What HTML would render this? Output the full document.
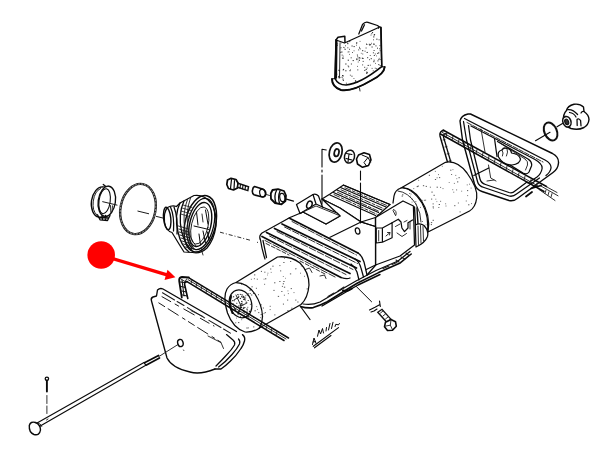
<!DOCTYPE html>
<html><head><meta charset="utf-8"><title>Parts diagram</title>
<style>
html,body{margin:0;padding:0;background:#fff;font-family:"Liberation Sans",sans-serif;}
svg{display:block}
.l{fill:none;stroke:#0a0a0a;stroke-width:1.25;stroke-linecap:round;stroke-linejoin:round}
.t{fill:none;stroke:#1a1a1a;stroke-width:.9;stroke-linecap:round;stroke-linejoin:round}
.w{fill:#fff;stroke:#0a0a0a;stroke-width:1.25;stroke-linecap:round;stroke-linejoin:round}
.d{fill:none;stroke:#1a1a1a;stroke-width:.9;stroke-dasharray:6 2 1.5 2}
</style></head><body>
<svg width="600" height="452" viewBox="0 0 600 452">
<rect width="600" height="452" fill="#fff"/>


<!-- A: top rubber boot -->
<g id="boot">
<path class="l" d="M358.8,34 L362.5,24.5 Q365,21.5 368,22.3 L377.5,25.5 L380,27.5 M361.5,31 L364.5,24.8"/>
<path class="l" d="M336,40 L338,37.2 L344.8,36.2 L345,42.5" style="stroke-width:1.5"/>
<path class="w" d="M336,40 L344.5,43 L379.7,27 L380.8,27.2 L381.7,66.7 L384.7,67 Q384,74 372,80 Q352,92 341,90 Q332,87 332,79 L335,78.5 Z"/>
<path d="M360.1,48.9h0.7M340.1,52.3h1.2M362.0,50.7h1.3M338.1,77.7h0.8M349.9,75.2h0.8M362.2,64.9h0.9M366.6,52.5h0.9M362.4,54.0h0.8M371.7,68.4h0.8M361.8,58.2h1.3M368.8,44.3h1.3M341.3,52.0h1.2M342.8,56.1h0.7M366.1,72.2h1.0M375.4,45.9h1.1M362.7,61.4h1.0M357.3,66.4h0.7M367.6,65.4h1.3M373.0,44.1h0.9M370.6,35.1h0.8M353.6,78.5h0.7M356.2,59.6h1.3M348.5,51.8h0.9M357.8,62.0h0.8M352.6,60.6h1.3M367.1,57.7h1.1M353.7,50.8h0.7M343.3,47.4h0.7M340.6,48.8h0.6M375.3,63.4h0.7M347.4,47.8h0.9M341.5,77.2h1.3M357.0,55.8h0.7M340.6,47.5h0.8M373.3,36.9h0.6M378.8,58.4h0.7M374.8,68.2h0.8M370.7,58.7h1.2M372.8,70.8h0.8M359.3,48.3h0.7M337.3,43.8h0.8M356.1,82.3h1.3M379.0,48.8h0.8M345.2,64.0h1.3M373.8,55.5h1.1M372.0,32.5h1.1M369.8,55.5h0.8M371.5,47.0h1.2M379.7,50.7h0.9M342.8,80.4h1.2M342.6,75.9h1.3M365.6,48.0h1.0M379.7,65.5h1.0M378.0,52.9h1.3M373.2,39.8h0.8M349.2,41.6h1.1M347.7,52.0h0.7M377.0,48.2h1.0M354.9,81.2h1.0M359.9,58.1h0.6M336.2,74.3h0.8M357.3,69.9h1.0M350.7,57.8h1.0M371.3,33.7h1.0M347.2,43.7h1.2M358.8,60.4h1.2M377.1,53.4h1.1M358.7,57.5h1.1M356.4,58.7h1.0M347.7,60.2h1.3M373.8,35.5h0.7M366.1,73.4h1.3M343.0,69.4h1.1M342.4,79.1h1.3M345.9,83.2h0.9M373.5,36.9h0.9M359.2,47.3h0.8M350.3,69.7h0.6M360.9,53.3h0.6M350.9,64.0h1.0M340.7,43.0h0.7M371.1,43.3h0.7M355.0,80.8h1.2M377.4,60.9h1.1M367.0,52.4h0.7M378.2,64.6h1.2M339.8,77.6h0.7M374.8,54.0h0.9M359.7,41.4h0.7M345.1,45.8h0.8M370.2,44.5h1.0M344.0,47.8h0.6M369.0,59.7h0.8M357.4,82.2h0.7M372.9,52.8h1.0M373.6,50.5h1.0M351.4,76.2h1.1M364.6,51.2h0.9M339.2,70.8h0.8M366.2,44.0h0.8M349.2,54.4h0.7M356.1,42.9h1.3M379.8,59.5h0.8M379.5,45.6h0.9M357.4,56.9h0.8M337.0,45.3h0.8M362.4,58.5h1.2M365.6,69.4h1.3M353.5,46.6h1.3M342.7,69.9h1.1M338.0,76.4h1.3M364.2,70.4h1.2M342.3,58.1h1.0M373.2,61.7h1.3M366.7,68.1h0.8M373.6,60.2h1.1M364.2,67.3h1.0M336.1,74.2h1.2M358.6,58.8h1.1M339.0,70.6h0.8M339.4,43.0h1.2M345.2,70.8h1.3M358.2,49.9h1.0M366.8,72.4h1.1M369.4,45.3h1.0M348.1,66.8h1.1M366.4,44.5h1.0M356.9,54.8h0.7M376.2,39.2h1.3M378.1,28.5h1.0M356.2,43.2h0.8M378.6,39.8h1.0M342.4,58.2h1.3M342.0,75.5h1.0M375.9,68.6h0.8M376.4,55.9h0.6M356.3,45.2h0.7M351.5,46.0h1.2M373.8,34.5h1.3M349.0,49.3h0.9M352.2,52.5h0.8M373.6,44.2h1.3M347.2,43.0h1.0M344.5,49.3h1.3M378.3,59.6h1.1M338.2,70.3h1.0M369.9,65.2h0.8M341.7,55.1h0.9M349.4,70.7h1.3M347.7,65.9h0.8" stroke="#222" stroke-width="0.90" fill="none"/>
<path class="l" d="M336,40 L335,78.5 M336.8,41 L336.3,78" style="stroke-width:1.5"/>
<path class="l" d="M381,27.5 L381.8,66.5" style="stroke-width:1.6"/>
<path class="l" d="M332,79 Q332,87 341,90 Q352,92 372,80 Q384,74 384.7,67" style="stroke-width:1.9"/>
<path class="l" d="M335,78.5 Q338,85 346,85 Q360,84 381.7,66.7" style="stroke-width:1.7"/>
<path class="t" d="M340,44 L339.5,78"/>
<path class="t" d="M359.5,88 L360,91"/>
</g>

<!-- B: right lamp housing -->
<g id="housing">
<path class="w" d="M468,114 Q461,115.500 460,121 L462.500,140 L474.500,184 Q476.500,190 482,191.500 L509,200.500 Q514,201.500 518,198 L553,172.500 Q558,169 558.500,163 Q559,157 552.500,153.500 L470.500,114 Z" style="stroke-width:1.400"/>
<path class="l" d="M464.500,118.500 L545,160 Q551.500,163.500 551,168 Q550.500,172 546,175.500"/>
<path class="l" d="M463.500,121.500 L466.500,140 L477.500,181.500 Q478.500,186 484,187.500 L509,196 Q513,197 516.500,194 L539.500,178"/>
<path class="t" d="M467,122.500 L543,162" stroke-dasharray="5 1.500"/>
<path class="l" d="M468.500,125.500 L470.500,140 L480,179 Q481,183 485.500,184.500 L509,192.500 Q512.500,193.500 515,191 L527,182"/>
<!-- lens opening -->
<path class="l" d="M471,126 L535,159.500 Q543,164 542,169 Q541,174 537,177 L528,183"/>
<path class="l" d="M494.500,138.500 L497,156.500 M497.500,141.500 L528,159 Q532.500,162 531.500,166 L529,172 Q527,175 523,173 L499.500,158.500"/>
<path class="t" d="M500,143 L525,159 Q528.500,161.500 527.500,165 L525.500,170"/>
<path class="w" d="M498.500,157 Q497,151 502,150 Q503.500,147 507,148.500 Q511,149 511.500,153 Q519,154 520.500,159 Q520,164 512,165 Q503,165 498.500,157 Z"/>
<path class="t" d="M502,150 Q504,153 502.500,156 M507,148.500 Q508.500,152 506.500,156"/>
<path class="t" d="M481,129 L485,152 M488.500,165 L490.700,178 L496,181 M487,181 L494,180"/>
<path class="l" d="M473.800,175.500 L488.800,168"/>
</g>
<!-- rod through housing -->
<g id="rodR">
<path class="l" d="M440.500,134 L544,191.500 M443,130 L546.500,186.500" style="stroke-width:1.500"/>
<path class="t" d="M442,132.300 L538,186"/>
<path class="t" d="M447,133 L446,137 M453,136.300 L452,140.300 M459,139.600 L458,143.600 M465,143 L464,147 M471,146.300 L470,150.300 M477,149.600 L476,153.600 M483,153 L482,157 M489,156.300 L488,160.300 M495,159.600 L494,163.600 M501,163 L500,167 M507,166.300 L506,170.300 M513,169.600 L512,173.600 M519,173 L518,177 M525,176.300 L524,180.300 M531,179.600 L530,183.600 M537,183 L536,187"/>
<path class="t" d="M540,185.500 L558,195.800 M539,189.500 L555,200.500 M546,186.500 L557,192.500"/>
<path class="t" d="M546,190 L545,193.500 M549,191.800 L548,195.300 M552,193.600 L551,197.100"/>
<path class="l" d="M531,188.500 L541,185.500 M526,196.500 L532,192" style="stroke-width:1.800"/>
</g>
<!-- right gasket -->
<g id="gasketR">
<path class="l" d="M444,130.500 Q439,131 440,136 L451.500,176 Q453.500,181.500 459,183.500 L468,187" style="stroke-width:1.400"/>
<path class="l" d="M446,133.500 Q443,134 443.500,137 L454.500,174.500 Q456,178.500 460,180 L467.500,183"/>
<path class="t" d="M443,140 L445,139.500 M445,147 L447,146.500 M447,154 L449,153.500 M449,161 L451,160.500 M451,168 L453,167.500 M453.500,175 L455.500,174"/>
</g>
<!-- C: ring + cap -->
<g id="ringcap">
<ellipse cx="550.600" cy="131.500" rx="6.200" ry="9.500" transform="rotate(-24 550.6 131.5)" fill="#fff" stroke="#111" stroke-width="2"/>
<path class="l" d="M535.500,140.700 L550,132.300 M557,126.800 L562.500,123.500" style="stroke-width:1.150"/>
<path class="w" d="M566.500,110.500 Q567.500,106 574,104.300 Q580,103.500 583.500,107 L584,111.500 Q589,115 589,119.500 Q588.500,125 584,127.500 Q578,130.500 571,128.500 Q564.500,126 563.500,120.500 Q563,114 566.500,110.500 Z" style="stroke-width:1.400"/>
<ellipse cx="566.900" cy="121.700" rx="4" ry="5.400" transform="rotate(-20 566.9 121.7)" fill="#fff" stroke="#111" stroke-width="1.600"/>
<ellipse cx="566.700" cy="121.900" rx="1.900" ry="2.900" transform="rotate(-20 566.7 121.9)" fill="#333" stroke="#111" stroke-width="1.100"/>
<path class="l" d="M567.800,109.600 Q573,109 577.600,114.500 M569.500,112.500 Q574,113 576,117 M577,119.400 L577.200,125.500 M580.600,120.600 L581,125.800 M577,119.400 Q579,118 580.600,120.600 M584,111.500 Q582,111 581,113"/>
</g>

<!-- D: right cylinder -->
<g id="cylR">
<path class="w" d="M401,188 L445.500,162.300 Q457,160 467,173 Q478,188 476.700,198 Q475.500,207.500 469.500,211 L428,232 Q431,215 421,200 Q412,187 401,188 Z"/>
<path d="M442.6,188.6h0.8M467.3,195.6h0.8M434.9,171.4h0.8M421.3,200.4h1.3M456.2,189.9h0.9M440.2,187.4h0.9M438.7,204.5h1.3M418.3,180.3h0.8M431.4,192.1h1.3M436.6,201.6h0.6M430.8,224.6h1.2M454.2,205.7h1.2M435.5,199.2h0.7M458.5,177.7h1.3M448.8,182.5h0.7M452.6,169.6h0.7M440.2,201.3h0.9M436.7,177.8h0.8M438.4,207.5h0.9M432.9,208.1h0.8M459.6,211.9h1.0M457.0,181.9h1.3M438.2,174.6h0.8M432.6,206.9h1.3M413.4,188.6h0.8M430.9,222.6h1.3M469.1,184.2h0.8M429.9,187.2h0.9M422.9,185.7h1.3M417.7,186.1h1.2M461.4,191.2h0.7M436.6,187.2h1.3M416.7,186.6h1.3M466.8,184.9h0.8M471.0,203.6h0.8M453.9,183.4h0.8M468.1,204.8h1.3M470.7,188.1h0.8M433.5,195.3h1.3M457.9,203.0h0.9M425.7,186.4h1.2M456.5,178.7h0.7M453.4,192.2h0.8M432.6,203.9h1.1M450.2,170.2h1.2M423.9,200.3h0.9M455.4,175.4h0.8M465.8,201.0h0.9M439.0,177.6h1.2M434.9,179.5h1.2M445.3,203.8h0.8M445.6,206.0h0.8M451.2,174.5h0.9M441.9,166.3h0.7M431.1,199.1h1.1M452.4,189.7h0.8M425.2,200.2h0.9M432.6,220.3h1.3M428.8,175.3h1.2M467.0,190.6h1.2" stroke="#444" stroke-width="0.90" fill="none"/><path d="M410.3,196.2h0.6M415.3,204.1h1.0M402.1,194.8h1.3M422.2,221.5h0.8M415.4,201.6h0.9M416.4,207.0h0.9M411.2,198.9h1.2M420.2,207.4h0.8M410.7,194.1h0.7M409.3,193.5h0.9M411.9,192.1h1.0M425.7,224.8h0.7M411.7,202.1h0.7M401.6,196.1h1.3" stroke="#444" stroke-width="0.90" fill="none"/>
<path class="l" d="M401,188 Q395,190 394,196 L393,203"/>
<path class="l" d="M403,187.5 Q414,190 422,203 Q430,217 427,236"/>
<path class="t" d="M398,191 Q408,192 416,204 Q421,213 421,222"/>
<path class="l" d="M414.500,207 L415.500,225 M417,208 L418,224.500" style="stroke-width:1.400"/>
<path class="w" d="M415.300,225 Q420,222.500 424,225.500 Q429,231 427.500,236.500 Q425,243 416,247 Z"/>
<path class="t" d="M418,226 L418.500,244.500 M420.500,225.500 L421,243 M423,226.500 L423.500,241"/>
</g>

<!-- E: central body -->
<g id="body">
<!-- right ribbed top -->
<path class="w" d="M343.5,185 L330,194 L322,199 L340,208 L361,222 L375.5,217.5 L390,204.5 Z"/>
<path class="l" d="M343.500,185.200 L390,204.500 M340.500,187.500 L386,207 M337,190 L382,210 M333.500,192.500 L378.500,212.500 M330,195 L375.500,215.500" style="stroke-width:1.150"/>
<path class="t" d="M345,187.800 L388,206 M341,189.800 L384,208.800 M337.500,192.300 L380,211.800 M334,194.600 L377,214.300" stroke-dasharray="6 2 3 2" style="stroke-width:.9"/>
<!-- box -->
<path class="w" d="M375.500,217.500 L403,201 L413.400,206 L414.500,245 L400,256 L375.500,265 Z"/>
<path class="l" d="M375.500,217.500 L375.500,265"/>
<path class="l" d="M376.200,228 L382.400,228 L392.100,222.700 L392.100,237.800 L382.400,242.200 L382.400,228 M376.200,228 L376.200,243 L382.400,242.200" style="stroke-width:1.200"/>
<path class="t" d="M378.700,230.500 L378.700,241 M386,236 L390,232.500 L387.500,232.500 M390,232.500 L389.500,235"/>
<path class="l" d="M392.100,222.700 L398.300,219.200 L401,222 L401.900,228 L404.500,231.600 L408,228 L408,222.700 L412.500,220"/>
<path class="t" d="M395.500,226.500 L400,224 M397,233 L402,236.500 L406.500,233.500 M410,222 L410,229 M404,222 L407,220.500"/>
<path class="t" d="M393,210.500 L395.500,215.500 M393.500,209.500 Q397,210.500 396,215"/>
<!-- platform -->
<path class="w" d="M290,217.5 L303,212 L326,224 L340,216 L322,199 L340,208 L361,222 L375.5,226.5 L375.5,265 L355,275 L332,279 L261,238 Z"/>
<path class="l" d="M327.5,238.5 L361,222 L375.5,226.5"/>
<ellipse class="l" cx="357.6" cy="231" rx="2.2" ry="3.2" transform="rotate(-15 357.6 231)"/>
<!-- bracket tab -->
<path class="w" d="M296.5,204.5 L313,194.5 Q316,193.5 318.5,196 L322.5,207 L337,213 L340,216 L326,224 L303,212 L300,213.5 Z"/>
<path class="l" d="M300,213.5 L316,204 L322.5,207 M316,204 L313,194.5"/>
<ellipse class="l" cx="309.400" cy="204.800" rx="2.500" ry="3.800" transform="rotate(22 309.4 204.8)" style="stroke-width:1.500"/>
<path class="t" d="M303,212 L316,206 L338,215"/>
<!-- left ribbed top -->
<path d="M290,217.500 L262,233 Q259,235 260,239 L263,256 L300,300 L332,297 L358,282 L366,270 L358,252 Z" fill="#fff" stroke="none"/>
<path class="l" d="M290,217.500 L262,233 Q259,235.500 260,239"/>
<path class="l" d="M262,236.500 L341,277.500 M266.500,232.500 L350,273.500 M274.500,228.500 L356.500,268 M282,224 L360,261.500 M290,218.500 L358,253" style="stroke-width:1.700"/>
<path class="t" d="M265,240.500 L336,277.500 M269.500,236 L346,274.500 M277,231.500 L353,269.500 M284.500,227 L357.500,263.500 M292,221.500 L356.500,255" stroke-dasharray="7 2"/>
<path class="t" d="M266,243.500 L289,255 M300,261 L325,274" stroke-dasharray="4 2"/>
<path class="l" d="M260.300,239 Q262,250 265,259 M263,240.500 L266.500,257.500"/>
<!-- lower skirt -->
<path class="l" d="M358,253 Q362.500,256 364,262 Q365.500,268 367,275 M355,259 Q359.500,262 361,268 L363.500,277 M351,264 Q355,267 357,272 L359,280"/>
<path class="l" d="M341,277.500 Q347,279.500 350,278 M367,275 L375.800,265"/>
<path class="l" d="M300.500,306.400 Q307,308.500 313.300,307.600 Q320,305.500 327.300,301.800 L346,290 L357.600,283 L378.600,272.600 L399.600,263.300 L411.200,254" style="stroke-width:1.600"/>
<path class="l" d="M303,304 Q312,305.500 320,302 L343,288.500 L356,281 L376,270.500 L398,261 L410,251.500" />
<path class="l" d="M322,306 L346,292 L358,285 L380,274.500" style="stroke-width:1.400"/>
<path class="t" d="M328,296.500 L334,293 M338,291 L344,287 M383,268.500 L389,266 M392,264.500 L397,262.500 M401,257 L405,259 M396,260 L399,262 M406,253 L409,255.500" style="stroke-width:1.100"/>
<path class="l" d="M343,290.500 Q347,292 352,288.500" style="stroke-width:2"/>
<path class="t" d="M304,270 L309.500,268 L312,272.500 M320,276 L324.500,275 L326,278.500"/>
</g>

<!-- F: left cylinder -->
<g id="cylL">
<path class="w" d="M236,282.500 L277.500,257 Q290,255.500 300,263 Q309,272 309,285 Q308,298 301,304.500 L261,327 Q254,332.500 245,332 Q233,328 227.500,313 Q222.500,297 227,289 Q230,284 236,282.500 Z"/>
<path d="M283.3,281.5h1.3M277.8,296.4h1.3M282.8,283.8h1.2M279.3,281.5h1.2M270.1,269.0h1.2M285.1,278.3h0.6M281.9,286.4h1.0M300.9,266.0h0.8M284.4,258.5h0.6M264.3,272.2h1.1M280.1,270.9h1.1M272.3,266.2h1.3M267.3,275.0h0.6M283.9,295.2h0.9M283.9,287.2h1.3M289.9,273.9h1.3M267.6,273.2h0.7M281.3,291.5h1.1M295.3,268.9h0.9M288.6,257.4h1.2M290.7,288.6h1.2M270.8,272.4h0.7M262.8,308.0h1.1M258.1,294.7h0.9M293.6,292.6h0.8M262.2,316.9h0.9M282.9,304.1h1.1M306.6,288.9h1.2M269.7,306.3h1.0M260.9,271.4h1.1M287.1,300.1h1.1M290.1,261.5h1.1M264.7,312.6h1.2M295.2,300.1h1.2M282.9,276.5h0.7M253.9,278.7h0.9M265.0,278.8h1.3M274.3,314.9h1.1M269.7,309.6h0.9M287.9,293.6h0.8M295.7,268.6h0.6M273.4,290.4h1.2M263.6,313.6h0.8M304.2,276.3h0.8M287.6,290.9h0.7M283.3,262.5h1.2M287.4,310.5h1.1M264.2,284.3h0.9M254.0,274.9h1.3M274.1,282.8h1.3M255.9,288.3h1.0M291.3,308.2h1.1M263.7,279.2h0.7M297.3,302.0h1.2M251.5,286.8h1.2M279.4,265.6h1.0M300.2,273.2h0.8M260.5,304.8h1.2M256.8,279.2h1.0M250.9,279.3h0.8" stroke="#444" stroke-width="0.90" fill="none"/><path d="M238.0,306.0h1.0M253.0,293.5h0.9M240.1,309.8h1.2M235.3,322.8h0.9M243.1,296.4h1.0M260.6,314.6h1.2M236.7,298.6h0.8M246.2,313.7h1.2M257.3,309.4h0.7M247.0,314.8h1.2M258.2,312.6h1.1M247.7,316.6h1.1M249.7,293.6h1.1M241.4,319.7h0.7M253.2,326.9h1.1M238.1,322.6h1.2M245.3,295.8h0.8M240.1,298.6h0.9M248.2,327.9h0.7M245.5,285.4h0.7M254.5,310.8h1.3M241.0,284.2h0.9M246.4,328.0h1.3M242.1,303.1h0.7M248.3,293.6h0.7M249.8,289.3h1.3M251.1,295.0h1.2M253.1,317.4h1.2M247.8,317.2h1.0M260.2,317.6h0.6M236.0,318.1h0.7M256.4,306.6h0.7M238.1,310.8h0.9M249.5,290.4h1.2M237.9,314.1h1.1" stroke="#333" stroke-width="0.90" fill="none"/>
<path class="l" d="M236,282.500 Q247,282.500 255,294 Q262,305 262.500,316 Q262,324 259,328.500"/>
<ellipse class="l" cx="240.500" cy="303.800" rx="11" ry="14.200" transform="rotate(-18 240.5 303.8)"/>
<path class="l" d="M231,296 Q228.500,304 232.500,313" style="stroke-width:2"/>
<path d="M232.0,300.7h1.5M246.8,310.0h1.0M234.0,307.4h0.8M234.3,300.8h0.7M238.4,311.5h1.3M240.5,307.3h1.1M232.9,306.5h1.0M245.6,314.6h1.0M242.1,310.4h1.0M234.7,309.7h1.4M246.3,309.1h1.4M244.3,307.5h1.1M236.5,307.2h0.8M238.8,311.3h1.3M243.3,297.2h1.0M239.5,307.0h1.0M244.2,315.2h0.8M243.8,311.2h1.0M240.3,316.4h0.7M241.4,294.8h1.3M249.9,304.3h0.8M242.1,304.9h1.3M240.8,307.5h1.4M241.0,301.4h1.5M234.3,308.7h1.0M231.1,297.8h1.0M230.1,301.6h1.0M244.7,299.9h0.9M234.6,310.2h1.5M241.1,296.4h1.3M238.2,296.2h0.8M246.4,312.0h1.2M239.8,305.4h0.9M243.5,312.2h1.4M239.8,298.4h1.1M237.4,313.1h0.9M237.9,297.3h1.0M245.2,298.0h0.9M236.3,303.3h1.0M243.4,308.0h1.0M249.1,311.3h0.8M247.5,307.3h0.7M243.8,297.2h0.8M232.9,296.8h1.3M237.2,294.6h1.4M246.7,295.0h1.4M242.8,311.2h1.2M248.9,311.4h1.4M234.1,308.9h1.1M245.6,302.2h1.4M241.7,297.6h0.9M232.8,303.6h0.7M239.8,294.4h1.1M240.5,304.8h1.4M239.8,305.5h1.2M247.7,300.5h1.0M243.4,307.4h0.7M242.8,308.6h1.4M240.7,303.4h1.4M243.2,299.5h1.4" stroke="#222" stroke-width="1.00" fill="none"/>
<path class="t" d="M236,295 L241,306 L247,303 M241,306 L238,314 M234,300 L239,297 M243,296 L245,300"/>
<path class="l" d="M300.500,306.500 L310,319.500"/>
</g>
<!-- G: left gasket + rod -->
<g id="gasketL">
<path class="l" d="M188.500,277.600 L288.500,338 M187,281.600 L284,340.500" style="stroke-width:1.500"/>
<path class="t" d="M188,279.600 L286,339"/>
<path class="t" d="M192,280 L191,283.500 M197,283 L196,286.500 M202,286 L201,289.500 M207,289 L206,292.500 M212,292 L211,295.500 M217,295 L216,298.500 M222,298 L221,301.500 M262,322.500 L261,326 M267,325.500 L266,329 M272,328.500 L271,332 M277,331.500 L276,335"/>
<path class="l" d="M188.800,277.400 L182,277 Q178.800,277.500 179.200,281 L181.800,297.500" style="stroke-width:1.800"/>
<path class="l" d="M187,281.600 Q184.300,281.800 184.600,284.500 L187.800,298.500" style="stroke-width:1.600"/>
<path class="l" d="M182,280 L182.500,284 L184,296 M180.500,282 L184.500,282.500 M181,286.500 L185.500,287.500 M181.800,291 L186.300,292 M182.500,295 L187,296" style="stroke-width:1"/>
<path class="t" d="M181,279 L185,281.500 L187,278.500"/>
</g>
<!-- H: lens cover -->
<g id="lens">
<path d="M157.500,290 Q160,287.500 163,289 L240,334 Q246,337 245.500,341 L242,349 Q236,360 215,369 Q200,375 190,372 Q172,368 167,358 L151.500,301 Q150.500,298 153,297 L156.500,296 Z" fill="#fff" stroke="none"/>
<path class="l" d="M236.500,331.500 L163,289 Q160,287.500 157.500,290 L156.500,296 L153,297 Q150.500,298 151.500,301 L167,358 Q172,368 190,372 Q200,375 215,369" style="stroke-width:1.350"/>
<path class="l" d="M242.500,334.600 Q245.500,337 244.500,341 Q243.500,345 241,348.500 Q236,356 230.500,361 Q226,365.500 221,369 L215,369" style="stroke-width:1.350"/>
<path class="l" d="M238.500,339 Q240.500,341 239.500,344 Q237,349 232,354.500 Q226,361.500 218.600,367"/>
<path class="l" d="M226.500,334.600 L233,340 Q235.500,342 234.500,345 Q231.500,350 226.500,355 Q222,360 216,366"/>
<path class="t" d="M162.500,292.800 L231,333.500" stroke-dasharray="14 3 8 4 20 5" style="stroke-width:1.050"/>
<path class="t" d="M162,296.700 L214,326" stroke-dasharray="10 5 4 6 12 7" style="stroke-width:1"/>
<path class="t" d="M158.800,302.900 L221,342.300" stroke-dasharray="7 4 12 5 3 4" style="stroke-width:1"/>
<path class="t" d="M191,310.600 L203,316.500 M208,336 L221,342.600 L223.500,348.500"/>
<ellipse class="l" cx="180.400" cy="343" rx="2.700" ry="3.600" transform="rotate(-15 180.4 343)" style="stroke-width:1.400"/>
<path class="t" d="M183.500,350 L183.800,350.500"/>
</g>
<!-- I: long bolt -->
<g id="bolt">
<path class="t" d="M158.500,356.800 L178,344.500"/>
<path class="l" d="M37.500,422.800 L144,362.400 L145.800,365.200 L39.800,426.300" style="stroke-width:1.150"/>
<path class="l" d="M144.500,362.800 L158.500,355.500 M146,365.200 L159.500,358" style="stroke-width:1.700"/>
<path class="w" d="M29.300,425.500 Q30.500,421 35.500,422.500 Q40.500,424.500 40.500,430 Q39.500,436 34,434.500 Q28.800,432.500 29.300,425.500 Z" style="stroke-width:1.400"/>
<path class="t" d="M36,423 Q40.500,422.500 41.800,426.500 M46.500,420 L48,419"/>
<ellipse class="l" cx="46.900" cy="378.800" rx="1.700" ry="1.600" style="stroke-width:1.300"/>
<path class="l" d="M46.900,380.500 L46.900,391.500" style="stroke-width:1.900"/>
<path class="t" d="M46.900,395.500 L46.900,413.500" stroke-dasharray="8 2.500"/>
</g>

<!-- J: ring clamp -->
<g id="clamp">
<path class="l" d="M102.900,186.950 A9.600,15.200 8 0 0 98.700,217.050" style="stroke-width:1.350"/>
<path class="l" d="M100.500,188.500 A8.300,14.200 8 0 0 97,215" style="stroke-width:.9"/>
<ellipse class="l" cx="106.800" cy="201.300" rx="8.600" ry="15.200" transform="rotate(8 106.8 201.3)" style="stroke-width:1.350"/>
<ellipse class="l" cx="104.600" cy="201.200" rx="5.600" ry="12.600" transform="rotate(8 104.6 201.2)" style="stroke-width:1.100"/>
<path class="t" d="M102.900,186.900 L108.500,186.300 M98.700,217 L104.700,216.400"/>
<path class="l" d="M103.300,184.500 L105.800,186.600 M97.500,214.800 L100,219.800 L107.500,220.500 L110,215.500 M99,217.500 L108.500,218 M102,215.500 L102.500,220 M105.500,215.500 L105.500,220.300" style="stroke-width:1.350"/>
<path class="t" d="M110.500,205.500 L110.800,212.500 M112.500,205.800 L112,212"/>
</g>
<!-- K: O-ring -->
<g id="oring">
<ellipse cx="138" cy="209" rx="17.500" ry="25.300" transform="rotate(11 138 209)" fill="none" stroke="#222" stroke-width="2.400"/>
<ellipse cx="138" cy="209" rx="17.500" ry="25.300" transform="rotate(11 138 209)" fill="none" stroke="#bbb" stroke-width=".7" stroke-dasharray="2 1.2"/>
</g>
<!-- center lines -->
<path class="d" d="M102.300,201.600 L117.400,205.200 M137.500,211 L149,213.800 M156,216.300 L164,218.300" style="stroke-dasharray:none;stroke-width:1"/>
<path class="d" d="M220,232.200 L250.500,240.300 M257,242.200 L258,242.500" style="stroke-dasharray:4 2 1 2"/>
<!-- L: socket -->
<g id="socket">
<path class="w" d="M167.500,207.500 Q172,205 176.500,206.500 L180,203 L194,195.500 Q204,194 211,203 Q217,213 216,226 Q214,240 207,248 Q200,254.500 192.500,252.500 L184,252 L179,244 L172,232.500 Q166,231 164.500,222 Q163.500,212 167.500,207.500 Z"/>
<ellipse class="l" cx="167.200" cy="218.500" rx="3.600" ry="11.300" transform="rotate(-6 167.2 218.5)" style="stroke-width:1.400"/>
<path class="l" d="M170.500,207 Q174.500,216 173.500,231 M174,207 Q178,217 177,234" />
<ellipse class="l" cx="200.300" cy="223.800" rx="15.300" ry="28.700" transform="rotate(13 200.3 223.8)" style="stroke-width:1.500"/>
<ellipse class="l" cx="200.800" cy="224" rx="13" ry="26" transform="rotate(13 200.8 224)"/>
<ellipse class="l" cx="200.300" cy="224.500" rx="10.600" ry="22.500" transform="rotate(13 200.3 224.5)" style="stroke-width:1.400"/>
<ellipse class="t" cx="199.800" cy="225.500" rx="8.300" ry="19" transform="rotate(13 199.8 225.5)"/>
<path class="l" d="M180,203 Q174,215 178,232 Q181,246 189,252 M184,201 Q178,214 181.500,231 Q184.500,244 192,250.500" style="stroke-width:1.300"/>
<path class="t" d="M187.500,199.500 Q182,213 185,230 Q187.500,242 194,248.500 M190.500,198 Q185.500,212 188,228 Q190,239 196,246"/>
<path class="t" d="M178.500,226 L188.500,229 M178.800,229 L188.800,232 M179.300,232 L189.300,235 M180,235 L190,238 M181,238 L190.800,241 M182,241 L191.800,244 M183.500,244 L192.500,246.500 M185.500,247 L193.500,249" style="stroke-width:.9"/>
<path class="t" d="M183,205 L192,207.500 M182,208 L191,210.500 M181,211 L190,213.500 M180.500,214 L189.500,216.500" style="stroke-width:.8"/>
<path class="l" d="M194,226 L209,229.500 M196.500,212 L198,225 M203,231 L205.500,243 M199,234 L200.500,245 M205.500,210 L208,224 M207.500,232 L209,240" style="stroke-width:1"/>
<path class="t" d="M202,214 L203,222 M201,248 L203,255"/>
</g>
<!-- M: screw, bushing, nut -->
<g id="screw">
<path class="w" d="M227.500,180 L231,178.300 L236,179.500 L238,183 L237.500,188 L233.500,190 L228.500,188.500 L226.800,184.500 Z" style="stroke-width:1.700"/>
<path class="l" d="M231.500,179.500 L230.500,188.500 M234.500,180.500 L234,189" style="stroke-width:1.200"/>
<path d="M238,183.200 L248.500,186.800 L247.800,190.600 L237.500,187.200 Z" fill="#fff" stroke="#111" stroke-width="1.500"/>
<path class="l" d="M240.500,184.500 L240,188 M243,185.300 L242.500,188.800 M245.500,186.200 L245,189.600" style="stroke-width:1.100"/>
<path class="w" d="M254.500,186.500 L262.500,189 Q266,190.500 265.800,194 Q265.500,197 262.500,197 L254,194.800 Q251.800,193.500 252.500,190 Q253,187 254.500,186.500 Z" style="stroke-width:1.600"/>
<ellipse class="l" cx="262.500" cy="193" rx="2.800" ry="4" transform="rotate(-10 262.500 193)" style="stroke-width:1.200"/>
<path class="t" d="M266.500,194.500 L269.500,195.500"/>
<path class="w" d="M272.500,190 L278,189.200 L284,191 L286,195.500 L285.500,201 L281.500,204.300 L275,203 L271,199 L270.800,193.500 Z" style="stroke-width:1.800"/>
<path class="l" d="M276.500,190.500 Q273.500,196 276,203 M280,191 Q277.500,197 279.500,203.500" style="stroke-width:1.300"/>
<ellipse class="l" cx="282.300" cy="197.500" rx="2.500" ry="4.200" transform="rotate(-10 282.3 197.5)" style="stroke-width:1.200"/>
<path class="l" d="M286.300,199.200 L293.500,201.200"/>
</g>
<!-- N: washers + nut on top -->
<g id="washers">
<path class="l" d="M322,149.300 L326.300,150 M322,149.300 L322,167 M322,170 L322,172 M322,175 L322,204" style="stroke-width:1.100"/>
<ellipse cx="335.700" cy="152.500" rx="6.300" ry="9.800" transform="rotate(14 335.7 152.500)" fill="#fff" stroke="#111" stroke-width="1.700"/>
<ellipse cx="336.600" cy="152.700" rx="2.300" ry="3.800" transform="rotate(14 336.6 152.7)" fill="#fff" stroke="#111" stroke-width="1.700"/>
<ellipse cx="349.500" cy="156.600" rx="5" ry="6.500" transform="rotate(14 349.5 156.6)" fill="#fff" stroke="#111" stroke-width="1.500"/>
<path class="l" d="M346.500,153.500 L352,154.500 M346,158.500 L352,160 M349,154 L348,162" style="stroke-width:1.100"/>
<path class="w" d="M358.500,155 L364,152.800 L369.500,154.500 L371,160 L368.500,165.500 L362.500,167.300 L357.500,164 L356.500,159 Z" style="stroke-width:1.600"/>
<path class="l" d="M362,155 L368,157.500 L370.500,162 M368,157.500 L364,162.500 L366.500,166" style="stroke-width:1"/>
<path class="l" d="M360.500,171 L360.500,180 M360.500,183 L360.500,223" style="stroke-width:1.100"/>
</g>
<!-- O: lower bolt + washer -->
<g id="lbolt">
<path class="l" d="M356.400,286.600 L371.600,301.800" style="stroke-width:1"/>
<path class="l" d="M369.500,310 L375,307.200 L380,304.500 M371,312 L374,311 L377,309 M379.500,301 L380.300,306.500" style="stroke-width:1.150"/>
<path d="M377.800,312.300 L382,309.300 L391,319.300 L386.800,322.300 Z" fill="#fff" stroke="#111" stroke-width="1.350"/>
<path class="t" d="M380.500,313 L383,311 M383,316 L385.500,314 M385.500,319 L388,317"/>
<path class="w" d="M385.500,322.200 L391,319.500 L395.500,321.700 L396.300,326.200 L392.500,330.200 L387.500,330.500 L384.500,326.700 Z" style="stroke-width:1.600"/>
<path class="t" d="M391,320 L390.300,325.200 L392.500,329.700 M390.300,325.200 L385,326.200"/>
</g>
<!-- P: signature scribble -->
<g id="sig">
<path class="l" d="M313.300,346.300 L338.500,327.600 M314.500,347.800 L331,335.500" style="stroke-width:1.100"/>
<path class="l" d="M312.500,344.500 L314,338 L316,343.300 M313,342 L315.500,341.500 M317.500,336.300 L319,330 L320.500,334 L322.500,328.500 L323.500,333 M326,331 L326.500,327.500 M328.500,330 L330,323.500 M331.500,328.500 L333,322.300 M335,326.500 Q335.500,323 337,324.500 Q338.500,326 339.500,323.500" style="stroke-width:1"/>
</g>

<!-- red marker -->
<g id="marker">
<circle cx="101.2" cy="255" r="13.8" fill="#f00"/>
<line x1="101.2" y1="255.2" x2="167" y2="274.8" stroke="#f00" stroke-width="3.3"/>
<polygon points="167.5,269.800 175.400,277.300 164.500,279.900" fill="#f00"/>
</g>


</svg>
</body></html>
